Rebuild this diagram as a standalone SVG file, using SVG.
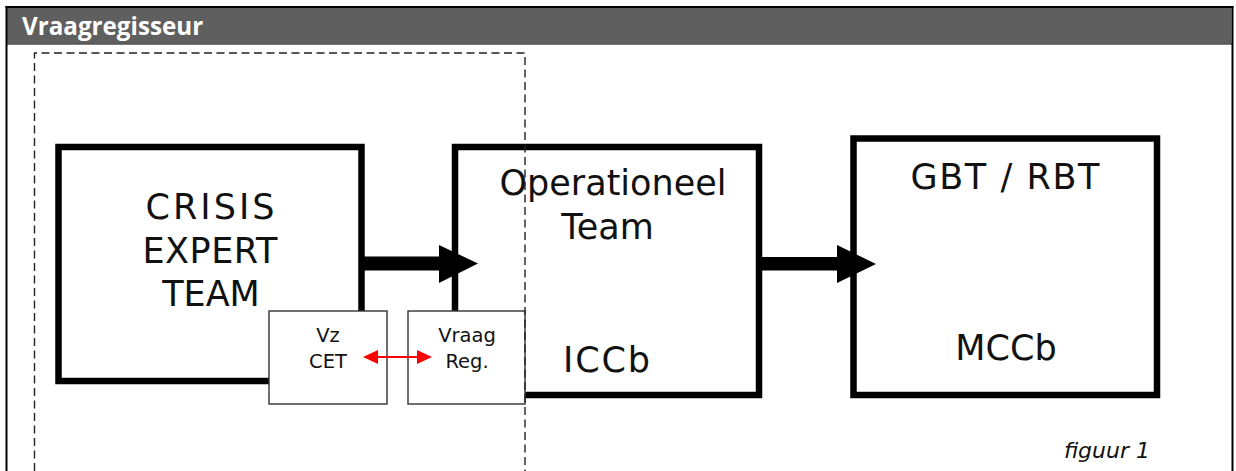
<svg xmlns="http://www.w3.org/2000/svg" width="1236" height="471" viewBox="0 0 1236 471">
<style>
.big{font-family:"DejaVu Sans",Verdana,sans-serif;font-size:35px;fill:#111;text-anchor:middle}
.small{font-family:"DejaVu Sans",Verdana,sans-serif;font-size:19.5px;fill:#111;text-anchor:middle}
.box{fill:#fff;stroke:#000;stroke-width:6.5}
.sbox{fill:#fff;stroke:#333;stroke-width:1.4}
.thick{fill:#000}
</style>
<rect x="0" y="0" width="1236" height="471" fill="#fff"/>
<g id="frame">
<rect x="6.5" y="7.5" width="1225" height="36" fill="#5f5f5f"/>
<line x1="5.5" y1="7" x2="1233.5" y2="7" stroke="#000" stroke-width="2"/>
<line x1="6.5" y1="44" x2="1232.5" y2="44" stroke="#000" stroke-width="1.2"/>
<line x1="6.5" y1="6" x2="6.5" y2="471" stroke="#000" stroke-width="2"/>
<line x1="1232.5" y1="6" x2="1232.5" y2="471" stroke="#000" stroke-width="2"/>
<text x="22" y="35" font-family="'Open Sans','Liberation Sans',sans-serif" font-weight="bold" font-size="24.2" fill="#fff">Vraagregisseur</text>
</g>
<g id="cet">
<rect class="box" x="58.5" y="147" width="303" height="234"/>
<text class="big" x="210" y="219" textLength="129" lengthAdjust="spacing">CRISIS</text>
<text class="big" x="210" y="263" textLength="135" lengthAdjust="spacing">EXPERT</text>
<text class="big" x="211" y="306">TEAM</text>
</g>
<g id="operationeel">
<rect class="box" x="455" y="147" width="304" height="248"/>
<text class="big" x="613" y="195">Operationeel</text>
<text class="big" x="607.5" y="239">Team</text>
<text class="big" x="606.5" y="372" textLength="87" lengthAdjust="spacing">ICCb</text>
</g>
<g id="gbt">
<rect class="box" x="853.5" y="138.5" width="303.5" height="256.5"/>
<text class="big" x="1005" y="189" textLength="189" lengthAdjust="spacing">GBT / RBT</text>
<text class="big" x="1006" y="360">MCCb</text>
</g>
<g id="connectors">
<rect class="thick" x="362" y="256.5" width="78" height="14"/>
<polygon class="thick" points="439,245 478,263.5 439,283"/>
<rect class="thick" x="760" y="257" width="78" height="13.5"/>
<polygon class="thick" points="837,245 876,264 837,283"/>
</g>
<g id="vzcet">
<rect class="sbox" x="269" y="311" width="118" height="93"/>
<text class="small" x="328" y="342">Vz</text>
<text class="small" x="328" y="368">CET</text>
</g>
<g id="vraagreg">
<rect class="sbox" x="408" y="311" width="117" height="93"/>
<text class="small" x="467" y="342">Vraag</text>
<text class="small" x="467" y="368">Reg.</text>
</g>
<g id="red-link">
<line x1="375" y1="357" x2="420" y2="357" stroke="#f00" stroke-width="2.2"/>
<polygon points="363,357 378,350 378,364" fill="#f00"/>
<polygon points="432,357 417,350 417,364" fill="#f00"/>
</g>
<g id="dashed-group">
<path d="M34.5,471 V53 H525 V471" fill="none" stroke="#222" stroke-width="1.4" stroke-dasharray="8,4.5"/>
</g>
<text x="1150" y="458" font-family="'DejaVu Sans',Verdana,sans-serif" font-style="italic" font-size="22" fill="#111" text-anchor="end">figuur 1</text>
</svg>
